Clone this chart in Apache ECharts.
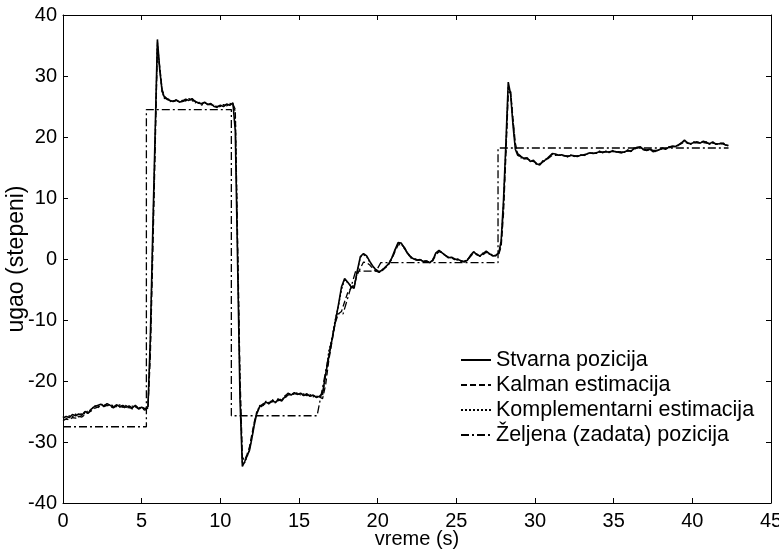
<!DOCTYPE html>
<html>
<head>
<meta charset="utf-8">
<script src="https://cdn.jsdelivr.net/npm/echarts@6/dist/echarts.min.js"></script>
<style>html,body{margin:0;padding:0;background:#fff}#c{width:779px;height:549px}</style>
</head>
<body>
<div id="c"></div>
<script>
// shared time axis (s) for the three measured/estimated signals
const time = [
  0.0,0.2,0.4,0.6,0.8,1.0,1.2,1.4,1.6,1.8,
  2.0,2.2,2.4,2.6,2.8,3.0,3.2,3.4,3.6,3.8,
  4.0,4.2,4.4,4.6,4.8,5.0,5.2,5.4,5.55,5.7,
  5.85,6.0,6.15,6.3,6.45,6.6,6.8,7.0,7.2,7.4,
  7.6,7.8,8.0,8.2,8.4,8.6,8.8,9.0,9.2,9.4,
  9.6,9.8,10.0,10.2,10.4,10.6,10.8,10.95,11.1,11.25,
  11.4,11.55,11.7,11.85,12.0,12.15,12.3,12.5,12.7,12.9,
  13.1,13.3,13.5,13.7,13.9,14.1,14.3,14.5,14.7,14.9,
  15.1,15.3,15.5,15.7,15.9,16.1,16.3,16.5,16.7,16.9,
  17.1,17.3,17.5,17.7,17.9,18.1,18.3,18.5,18.7,18.9,
  19.1,19.3,19.5,19.7,19.9,20.1,20.3,20.5,20.7,20.9,
  21.1,21.3,21.5,21.7,21.9,22.1,22.3,22.5,22.7,22.9,
  23.1,23.3,23.5,23.7,23.9,24.1,24.3,24.5,24.7,24.9,
  25.1,25.3,25.5,25.7,25.9,26.1,26.3,26.5,26.7,26.9,
  27.1,27.3,27.5,27.7,27.85,28.0,28.15,28.3,28.45,28.6,
  28.75,28.9,29.1,29.3,29.5,29.7,29.9,30.1,30.3,30.5,
  30.7,30.9,31.1,31.3,31.5,31.7,31.9,32.1,32.3,32.5,
  32.7,32.9,33.1,33.3,33.5,33.7,33.9,34.1,34.3,34.5,
  34.7,34.9,35.1,35.3,35.5,35.7,35.9,36.1,36.3,36.5,
  36.7,36.9,37.1,37.3,37.5,37.7,37.9,38.1,38.3,38.5,
  38.7,38.9,39.1,39.3,39.5,39.7,39.9,40.1,40.3,40.5,
  40.7,40.9,41.1,41.3,41.5,41.7,41.9,42.1,42.3
];

const stvarna = [
  -26.1,-25.8,-26.0,-25.5,-25.7,-25.4,-25.6,-25.0,-25.3,-24.6,
  -24.2,-24.0,-23.8,-24.1,-23.7,-24.0,-24.3,-23.9,-24.2,-24.0,
  -24.3,-24.1,-24.4,-24.0,-24.5,-24.3,-24.6,-24.2,-13,4,
  20,36,31,27.5,26.5,26.2,26.0,25.8,26.1,25.7,
  25.9,26.2,26.0,26.3,25.8,25.6,25.4,25.7,25.3,25.5,
  25.0,24.9,25.2,25.0,25.4,25.2,25.6,21,-1,-23,
  -34.0,-33.2,-32.3,-31.4,-29.5,-27.3,-25.5,-24.2,-23.8,-23.5,
  -23.7,-23.2,-23.5,-23.0,-23.3,-22.6,-22.0,-22.3,-21.9,-22.2,
  -22.0,-22.4,-22.1,-22.5,-22.3,-22.7,-22.5,-22.0,-18.8,-16.0,
  -13.2,-10.4,-7.6,-4.6,-3.2,-3.8,-4.5,-4.8,-2.0,0.4,
  0.9,0.5,-0.4,-1.2,-1.8,-2.1,-1.8,-1.3,-0.8,0.2,
  1.5,2.7,2.6,1.8,0.9,0.3,0.0,-0.2,-0.1,-0.4,
  -0.3,-0.6,-0.2,1.0,1.4,1.0,0.6,0.2,0.3,0.0,
  -0.1,-0.3,-0.5,-0.2,0.6,1.2,0.7,0.5,0.9,1.3,
  0.9,0.5,0.6,1.0,3,9.7,19,29.0,27.0,22.0,
  18.0,17.0,16.8,16.5,16.6,16.0,16.2,15.6,15.4,16.0,
  16.3,16.8,17.3,17.2,17.0,17.1,16.9,16.8,17.0,16.9,
  16.8,17.0,17.1,17.2,17.4,17.3,17.4,17.6,17.5,17.6,
  17.5,17.7,17.6,17.5,17.4,17.6,17.8,17.7,18.1,18.3,
  18.4,17.9,17.8,18.0,17.6,17.7,17.9,18.2,18.0,18.3,
  18.5,18.4,18.7,19.0,19.5,19.0,18.9,19.1,19.2,19.0,
  19.3,19.1,18.9,19.2,18.8,18.9,19.0,18.7,18.6
];

const kalman = [
  -26.5,-26.2,-26.4,-26.0,-26.1,-25.8,-25.9,-25.5,-25.2,-24.9,
  -24.5,-24.3,-24.1,-24.2,-24.0,-24.2,-24.4,-24.1,-24.3,-24.2,
  -24.5,-24.3,-24.6,-24.2,-24.6,-24.5,-24.8,-24.4,-16,0,
  17,34.5,31.5,27.8,26.7,26.3,26.1,25.9,26.0,25.8,
  25.8,26.0,26.1,26.1,25.9,25.5,25.5,25.6,25.4,25.3,
  25.1,25.0,25.1,25.1,25.3,25.3,25.4,24.5,3,-19,
  -32.5,-33.0,-32.0,-30.8,-28.8,-26.8,-25.2,-24.4,-24.0,-23.6,
  -23.5,-23.4,-23.3,-23.2,-23.1,-22.8,-22.3,-22.2,-22.1,-22.1,
  -22.2,-22.3,-22.3,-22.4,-22.4,-22.6,-22.6,-22.9,-20.5,-16.5,
  -13.5,-10.5,-9.0,-8.6,-7.0,-5.5,-4.8,-4.2,-2.6,-1.5,
  -0.5,-0.6,-1.0,-1.6,-2.0,-2.2,-1.9,-1.4,-0.9,0.0,
  1.2,2.3,2.4,1.9,1.0,0.4,0.1,-0.1,-0.2,-0.4,
  -0.4,-0.5,-0.3,0.7,1.2,1.0,0.6,0.3,0.1,0.0,
  -0.2,-0.3,-0.4,-0.2,0.4,1.0,0.8,0.5,0.7,1.1,
  1.0,0.6,0.5,0.8,2,7.5,17,27.0,27.5,23.0,
  19.0,17.3,16.9,16.4,16.4,16.1,16.0,15.7,15.6,15.9,
  16.2,16.6,17.0,17.1,17.0,17.0,16.9,16.9,16.9,16.9,
  16.9,17.0,17.0,17.2,17.3,17.3,17.4,17.5,17.5,17.6,
  17.6,17.6,17.6,17.6,17.5,17.6,17.7,17.7,18.0,18.2,
  18.3,18.0,17.9,18.0,17.8,17.8,17.9,18.1,18.1,18.2,
  18.4,18.5,18.6,18.9,19.2,19.0,18.9,19.0,19.1,19.0,
  19.1,19.0,18.9,19.0,18.9,18.8,18.9,18.7,18.6
];

const komplementarni = [
  -25.8,-26.3,-25.7,-25.9,-25.4,-25.9,-25.2,-25.4,-24.8,-24.8,
  -24.0,-24.4,-23.9,-23.8,-24.1,-23.8,-24.1,-24.2,-23.9,-24.3,
  -24.0,-24.4,-24.1,-24.3,-24.2,-24.6,-24.3,-24.5,-14,3,
  19,35.5,31.2,27.4,26.3,26.4,25.8,26.0,25.8,25.9,
  26.0,25.9,26.3,26.0,25.6,25.8,25.2,25.5,25.5,25.2,
  25.2,24.8,25.0,25.3,25.1,25.5,25.3,24.2,1,-21,
  -33.5,-33.4,-32.4,-31.2,-29.2,-27.1,-25.3,-24.0,-24.1,-23.3,
  -23.8,-23.0,-23.6,-22.8,-23.2,-22.4,-22.2,-22.0,-22.2,-21.9,
  -22.3,-22.1,-22.4,-22.2,-22.6,-22.4,-22.8,-22.3,-19,-15,
  -13.0,-10.0,-7.8,-5.0,-3.4,-3.9,-4.4,-4.6,-2.2,0.3,
  0.7,0.4,-0.5,-1.3,-1.7,-2.2,-1.7,-1.4,-0.7,0.1,
  1.4,2.6,2.5,1.7,1.0,0.2,0.1,-0.3,0.0,-0.5,
  -0.2,-0.7,-0.1,0.9,1.3,1.1,0.5,0.3,0.2,-0.1,
  0.0,-0.4,-0.4,-0.1,0.5,1.1,0.8,0.4,1.0,1.2,
  0.8,0.6,0.5,1.1,2.6,9,18,28.3,27.3,22.5,
  18.4,17.2,16.6,16.6,16.4,16.2,16.0,15.5,15.6,16.1,
  16.4,16.7,17.2,17.0,17.1,16.9,17.0,16.7,17.1,16.8,
  16.9,17.1,16.9,17.3,17.3,17.4,17.3,17.7,17.4,17.7,
  17.4,17.8,17.5,17.6,17.5,17.5,17.9,17.6,18.2,18.2,
  18.3,18.0,17.7,18.1,17.7,17.6,18.0,18.1,18.1,18.4,
  18.4,18.5,18.6,19.1,19.3,19.1,18.8,19.2,19.1,19.1,
  19.2,19.2,18.8,19.1,18.9,18.8,19.1,18.8,18.5
];

// desired (reference) position
const zeljenaT = [0, 5.3, 5.3, 10.7, 10.7, 16.15, 17.4, 17.8, 18.6, 19.9, 20.2, 27.65, 27.65, 42.3];
const zeljenaV = [-27.5, -27.5, 24.5, 24.5, -25.7, -25.7, -9, -9, -2, -2, -0.6, -0.6, 18.2, 18.2];

const seriesNames = ['Stvarna pozicija', 'Kalman estimacija', 'Komplementarni estimacija', 'Željena (zadata) pozicija'];
const xTicks = { min: 0, max: 45, interval: 5 };
const yTicks = { min: -40, max: 40, interval: 10 };
const xTitle = 'vreme (s)';
const yTitle = 'ugao (stepeni)';

const FONT = '"Liberation Sans", Arial, sans-serif';
const pair = (t, v) => t.map((x, i) => [x, v[i]]);

const chart = echarts.init(document.getElementById('c'), null, { renderer: 'canvas' });
const axisLine = { show: true, onZero: false, lineStyle: { color: '#000', width: 1 } };
const tickIn = { show: true, inside: true, length: 5, lineStyle: { color: '#000', width: 1 } };

chart.setOption({
  animation: false,
  backgroundColor: '#fff',
  grid: { left: 63, right: 8, top: 15, bottom: 46, containLabel: false, outerBoundsMode: 'none' },
  legend: {
    orient: 'vertical',
    left: 455,
    top: 344,
    itemWidth: 30,
    itemHeight: 14,
    itemGap: 3,
    data: seriesNames,
    itemStyle: { opacity: 0 },
    textStyle: { fontFamily: FONT, fontSize: 21.5, color: '#000' }
  },
  xAxis: [
    {
      type: 'value', position: 'bottom', min: xTicks.min, max: xTicks.max, interval: xTicks.interval,
      axisLine, axisTick: tickIn, splitLine: { show: false },
      axisLabel: { color: '#000', fontFamily: FONT, fontSize: 20, margin: 8 },
      name: xTitle, nameLocation: 'middle', nameGap: 26, nameMoveOverlap: false,
      nameTextStyle: { color: '#000', fontFamily: FONT, fontSize: 20 }
    },
    {
      type: 'value', position: 'top', min: xTicks.min, max: xTicks.max, interval: xTicks.interval,
      axisLine, axisTick: tickIn, splitLine: { show: false }, axisLabel: { show: false }
    }
  ],
  yAxis: [
    {
      type: 'value', position: 'left', min: yTicks.min, max: yTicks.max, interval: yTicks.interval,
      axisLine, axisTick: tickIn, splitLine: { show: false },
      axisLabel: { color: '#000', fontFamily: FONT, fontSize: 20, margin: 6 },
      name: yTitle, nameLocation: 'middle', nameGap: 35, nameRotate: 90, nameMoveOverlap: false,
      nameTextStyle: { color: '#000', fontFamily: FONT, fontSize: 23 }
    },
    {
      type: 'value', position: 'right', min: yTicks.min, max: yTicks.max, interval: yTicks.interval,
      axisLine, axisTick: tickIn, splitLine: { show: false }, axisLabel: { show: false }
    }
  ],
  series: [
    {
      name: seriesNames[3], type: 'line', data: pair(zeljenaT, zeljenaV),
      showSymbol: false, symbol: 'none', itemStyle: { color: '#000' },
      lineStyle: { color: '#000', width: 1.3, type: [8, 3, 2, 3] }, z: 1
    },
    {
      name: seriesNames[1], type: 'line', data: pair(time, kalman),
      showSymbol: false, symbol: 'none', itemStyle: { color: '#000' },
      lineStyle: { color: '#000', width: 1.3, type: [6, 3] }, z: 2
    },
    {
      name: seriesNames[2], type: 'line', data: pair(time, komplementarni),
      showSymbol: false, symbol: 'none', itemStyle: { color: '#000' },
      lineStyle: { color: '#000', width: 1.3, type: [2, 2] }, z: 3
    },
    {
      name: seriesNames[0], type: 'line', data: pair(time, stvarna),
      showSymbol: false, symbol: 'none', itemStyle: { color: '#000' },
      lineStyle: { color: '#000', width: 1.6, type: 'solid' }, z: 4
    }
  ]
});
</script>
</body>
</html>
